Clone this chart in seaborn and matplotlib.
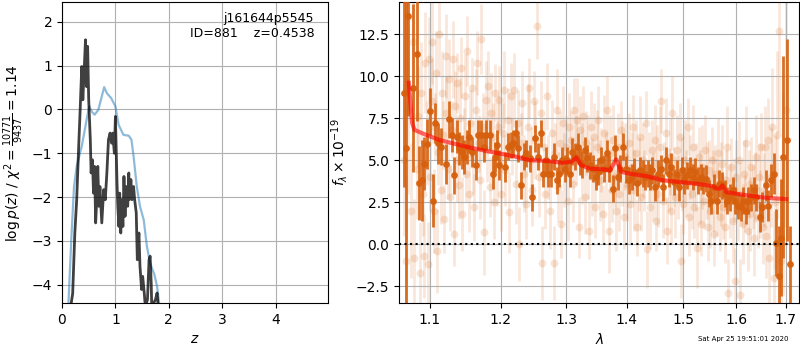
import matplotlib
matplotlib.use("Agg")
import pandas as pd
import seaborn as sns
import matplotlib.pyplot as plt
from matplotlib.ticker import FixedLocator, NullLocator, FormatStrFormatter

# ---- left panel: redshift probability ----
pz_z = [0.12, 0.15, 0.20, 0.24, 0.275, 0.31, 0.34, 0.37, 0.39, 0.41, 0.44, 0.46, 0.48, 0.50,
        0.53, 0.545, 0.57, 0.59, 0.61, 0.63, 0.65, 0.67, 0.69, 0.71, 0.745, 0.78, 0.81, 0.84,
        0.87, 0.90, 0.93, 0.95, 0.98, 1.00, 1.03, 1.045, 1.065, 1.08, 1.10, 1.12, 1.14, 1.16,
        1.18, 1.20, 1.23, 1.25, 1.26, 1.29, 1.31, 1.34, 1.36, 1.39, 1.41, 1.44, 1.46, 1.49,
        1.51, 1.54, 1.56, 1.60, 1.63, 1.65, 1.67, 1.68, 1.75, 1.78, 1.80, 1.85]
pz_logp = [-6.0, -4.6, -4.2, -2.82, -2.06, -0.92, -0.01, 0.98, 0.22, 0.75, 1.59, 0.52, 1.44, 0.22,
           -0.69, -1.45, -1.15, -1.91, -1.30, -2.59, -2.06, -1.30, -2.21, -1.76, -2.59, -1.83, -2.06, -1.45,
           -0.69, -0.54, -0.77, -0.54, -1.00, -0.16, -1.68, -2.21, -2.67, -1.91, -2.82, -2.06, -2.67, -1.53,
           -2.44, -1.76, -2.21, -1.45, -2.06, -1.60, -2.06, -1.76, -2.06, -2.36, -3.43, -2.82, -3.58, -4.11,
           -3.81, -4.19, -4.50, -4.34, -3.43, -3.35, -3.96, -4.50, -4.34, -4.19, -4.50, -6.0]

prior_z = [0.10, 0.12, 0.18, 0.225, 0.275, 0.37, 0.46, 0.51, 0.557, 0.61, 0.68, 0.745, 0.79, 0.84,
           0.92, 1.00, 1.06, 1.15, 1.25, 1.30, 1.34, 1.40, 1.46, 1.53, 1.59, 1.65, 1.73, 1.78, 1.82, 1.86]
prior_logp = [-6.0, -4.43, -2.82, -1.76, -1.30, -0.84, -0.24, 0.07, -0.05, -0.12, -0.01, 0.30, 0.51, 0.37,
              0.26, 0.07, -0.35, -0.58, -0.60, -0.69, -1.07, -1.76, -2.21, -2.52, -3.13, -3.51, -3.77, -4.04, -4.43, -6.0]

# ---- right panel: spectrum ----
model_wave = [1.0725, 1.0769, 1.0800, 1.0955, 1.1135, 1.1317, 1.1505, 1.1788, 1.2032, 1.2230,
              1.2431, 1.2687, 1.2947, 1.3080, 1.3160, 1.3241, 1.3376, 1.3652, 1.3708, 1.3820,
              1.3905, 1.4047, 1.4336, 1.4632, 1.4933, 1.5240, 1.5554, 1.5617, 1.5681, 1.5732,
              1.5809, 1.6004, 1.6334, 1.6535, 1.7008]
model_flux = [9.6, 7.2, 6.8, 6.5, 6.2, 6.0, 5.8, 5.55, 5.36, 5.2,
              5.0, 4.96, 4.84, 4.9, 5.16, 4.7, 4.5, 4.44, 4.38, 5.04,
              4.3, 4.2, 4.05, 3.8, 3.7, 3.6, 3.45, 3.32, 3.3, 3.5,
              3.1, 3.0, 2.86, 2.78, 2.68]

binned_wave = [1.066, 1.069, 1.072, 1.078, 1.083, 1.086, 1.090, 1.093, 1.096, 1.100,
               1.105, 1.108, 1.112, 1.116, 1.122, 1.127, 1.130, 1.133, 1.137, 1.140,
               1.144, 1.147, 1.151, 1.155, 1.159, 1.164, 1.167, 1.172, 1.175, 1.179,
               1.184, 1.188, 1.191, 1.194, 1.198, 1.207, 1.211, 1.215, 1.218, 1.222,
               1.226, 1.230, 1.234, 1.238, 1.243, 1.247, 1.251, 1.256, 1.260, 1.264,
               1.268, 1.272, 1.276, 1.280, 1.285, 1.289, 1.293, 1.298, 1.301, 1.306,
               1.309, 1.314, 1.318, 1.322, 1.326, 1.330, 1.334, 1.338, 1.343, 1.348,
               1.352, 1.357, 1.361, 1.366, 1.370, 1.376, 1.380, 1.385, 1.389, 1.394,
               1.399, 1.404, 1.408, 1.413, 1.418, 1.422, 1.427, 1.432, 1.436, 1.440,
               1.444, 1.449, 1.454, 1.459, 1.463, 1.468, 1.473, 1.478, 1.483, 1.488,
               1.492, 1.497, 1.502, 1.507, 1.512, 1.517, 1.522, 1.527, 1.532, 1.537,
               1.542, 1.547, 1.552, 1.557, 1.562, 1.567, 1.573, 1.578, 1.583, 1.588,
               1.593, 1.598, 1.604, 1.609, 1.614, 1.619, 1.624, 1.630, 1.635, 1.640,
               1.647, 1.652, 1.659, 1.663, 1.670, 1.675, 1.679, 1.686, 1.690, 1.695,
               1.702, 1.708]
binned_flux = [9.0, 5.7, 13.6, 9.3, 11.3, 3.65, 3.8, 4.8, 5.95, 7.9,
               2.6, 7.2, 6.0, 5.8, 4.76, 7.44, 6.5, 4.1, 6.4, 5.7,
               5.5, 5.2, 5.8, 6.4, 5.5, 4.7, 6.5, 6.5, 5.8, 6.5,
               6.5, 4.2, 5.2, 5.9, 4.7, 4.6, 5.8, 5.9, 6.0, 6.6,
               5.7, 3.5, 5.2, 5.4, 5.1, 2.8, 6.3, 5.2, 6.6, 4.2,
               5.0, 4.2, 4.2, 5.2, 3.8, 4.2, 5.0, 4.5, 5.0, 4.2,
               5.5, 5.2, 5.8, 4.9, 4.76, 5.6, 5.1, 4.7, 4.5, 4.0,
               4.3, 5.0, 4.5, 5.4, 4.5, 3.3, 5.7, 4.0, 4.5, 5.8,
               4.45, 3.8, 4.0, 4.3, 3.65, 4.4, 4.2, 4.0, 4.2, 4.0,
               4.4, 3.4, 4.2, 4.5, 3.4, 5.0, 4.2, 4.6, 3.7, 4.2,
               3.4, 4.4, 3.8, 4.1, 4.4, 4.0, 4.3, 3.8, 4.0, 3.8,
               3.9, 3.0, 2.6, 3.4, 2.6, 3.6, 3.5, 3.0, 2.6, 2.8,
               3.2, 2.6, 2.3, 2.2, 2.6, 2.0, 2.6, 2.8, 3.2, 2.8,
               1.6, 2.2, 3.5, 2.3, 3.8, 4.2, 0.1, -1.9, 0.4, 5.2,
               6.2, -1.2]
binned_err = [5.6, 10.0, 6.0, 5.0, 4.0, 2.2, 2.4, 1.6, 1.5, 1.4,
              1.6, 1.2, 1.2, 1.1, 1.2, 1.1, 1.0, 1.1, 1.0, 1.0,
              1.0, 1.0, 1.0, 1.0, 0.9, 0.9, 0.9, 0.9, 0.9, 0.9,
              0.9, 0.9, 0.9, 0.9, 0.9, 0.9, 0.8, 0.8, 0.8, 0.8,
              0.8, 0.8, 0.8, 0.8, 0.8, 0.8, 0.8, 0.8, 0.8, 0.8,
              0.8, 0.8, 0.8, 0.8, 0.8, 0.8, 0.8, 0.8, 0.8, 0.8,
              0.8, 0.8, 0.8, 0.8, 0.8, 0.8, 0.8, 0.8, 0.8, 0.8,
              0.8, 0.8, 0.8, 0.8, 0.8, 0.8, 0.8, 0.8, 0.8, 0.8,
              0.8, 0.8, 0.8, 0.8, 0.8, 0.8, 0.8, 0.8, 0.8, 0.8,
              0.8, 0.8, 0.8, 0.8, 0.8, 0.8, 0.8, 0.8, 0.8, 0.8,
              0.8, 0.8, 0.8, 0.8, 0.8, 0.8, 0.8, 0.8, 0.8, 0.8,
              0.8, 0.8, 0.8, 0.8, 0.8, 0.8, 0.8, 0.8, 0.8, 0.8,
              0.8, 0.8, 0.8, 0.8, 0.8, 0.8, 0.8, 0.8, 0.8, 0.8,
              0.9, 0.9, 0.9, 0.9, 1.0, 1.2, 2.0, 3.0, 3.5, 6.0,
              6.0, 2.3]

faint_wave = [1.066, 1.069, 1.072, 1.075, 1.078, 1.080, 1.083, 1.085, 1.087, 1.089,
              1.091, 1.093, 1.094, 1.096, 1.098, 1.099, 1.101, 1.103, 1.104, 1.106,
              1.107, 1.109, 1.110, 1.112, 1.113, 1.115, 1.117, 1.118, 1.120, 1.122,
              1.123, 1.125, 1.127, 1.128, 1.130, 1.132, 1.133, 1.135, 1.137, 1.138,
              1.140, 1.142, 1.143, 1.145, 1.147, 1.149, 1.150, 1.152, 1.154, 1.156,
              1.158, 1.160, 1.162, 1.164, 1.166, 1.168, 1.170, 1.172, 1.174, 1.176,
              1.178, 1.180, 1.182, 1.184, 1.186, 1.188, 1.190, 1.192, 1.194, 1.196,
              1.198, 1.200, 1.203, 1.205, 1.207, 1.210, 1.212, 1.215, 1.217, 1.220,
              1.222, 1.225, 1.227, 1.230, 1.232, 1.235, 1.237, 1.240, 1.242, 1.245,
              1.247, 1.250, 1.252, 1.255, 1.257, 1.260, 1.262, 1.265, 1.267, 1.270,
              1.272, 1.275, 1.277, 1.280, 1.282, 1.285, 1.287, 1.290, 1.292, 1.295,
              1.297, 1.300, 1.302, 1.305, 1.307, 1.310, 1.312, 1.315, 1.317, 1.320,
              1.322, 1.325, 1.327, 1.330, 1.332, 1.335, 1.337, 1.340, 1.342, 1.345,
              1.347, 1.350, 1.352, 1.355, 1.357, 1.360, 1.362, 1.365, 1.367, 1.370,
              1.372, 1.375, 1.377, 1.380, 1.382, 1.385, 1.387, 1.390, 1.392, 1.395,
              1.397, 1.400, 1.403, 1.405, 1.408, 1.410, 1.413, 1.415, 1.418, 1.420,
              1.423, 1.425, 1.428, 1.430, 1.433, 1.435, 1.438, 1.440, 1.443, 1.445,
              1.448, 1.450, 1.453, 1.455, 1.458, 1.460, 1.463, 1.465, 1.468, 1.470,
              1.473, 1.475, 1.478, 1.480, 1.483, 1.485, 1.488, 1.490, 1.493, 1.495,
              1.498, 1.500, 1.503, 1.505, 1.508, 1.510, 1.513, 1.515, 1.518, 1.520,
              1.523, 1.525, 1.528, 1.530, 1.533, 1.535, 1.538, 1.540, 1.543, 1.545,
              1.548, 1.550, 1.553, 1.555, 1.558, 1.560, 1.563, 1.565, 1.568, 1.570,
              1.573, 1.575, 1.578, 1.580, 1.583, 1.585, 1.588, 1.590, 1.593, 1.595,
              1.598, 1.600, 1.603, 1.605, 1.608, 1.610, 1.613, 1.615, 1.618, 1.620,
              1.623, 1.625, 1.628, 1.630, 1.633, 1.635, 1.638, 1.640, 1.643, 1.645,
              1.648, 1.650, 1.653, 1.655, 1.658, 1.660, 1.663, 1.666, 1.669, 1.672,
              1.675, 1.678, 1.682, 1.686, 1.690, 1.695, 1.700]
faint_flux = [5.0, -1.0, 8.0, 2.0, 12.0, -0.8, 4.5, 7.6, -1.7, 9.0,
              3.0, -0.7, 10.8, 6.0, -1.2, 11.0, 4.0, 8.5, 12.0, 2.0,
              7.0, 10.2, -0.4, 5.5, 12.5, 3.2, 9.0, 6.5, 1.5, 11.2,
              7.8, 4.5, 9.8, 2.8, 6.8, 11.0, 0.6, 8.2, 5.0, 9.6,
              3.5, 7.5, 10.5, 1.8, 6.2, 8.8, 4.2, 11.5, 3.0, 7.2,
              9.3, 5.2, 2.2, 8.0, 10.8, 6.0, 3.8, 12.2, 7.0, 0.7,
              8.6, 5.6, 9.4, 3.4, 7.8, 6.4, 2.5, 9.0, 4.8, 7.0,
              8.6, 3.0, 6.6, 9.2, 4.4, 7.4, 1.9, 8.8, 5.8, 9.2,
              3.6, 7.2, 0.0, 6.0, 8.4, 4.2, 2.4, 7.0, 9.3, 5.0,
              3.2, 8.5, 6.2, 13.0, 4.0, 7.8, -1.1, 5.8, 3.0, 8.8,
              4.6, 2.0, 6.6, -1.1, 5.4, 8.0, 3.4, 6.0, 1.2, 7.2,
              4.4, 5.8, 2.6, 7.0, 6.2, 3.6, 8.0, 5.6, 7.4, 1.0,
              6.8, 4.8, 7.6, 2.8, 6.0, 5.2, 0.8, 7.0, 4.0, 6.4,
              2.2, 5.8, 7.4, 3.8, 5.0, 1.8, 6.6, 4.6, 8.0, 0.8,
              5.4, 3.2, 6.2, 4.0, 2.0, 5.8, 3.0, 6.8, 4.8, 1.6,
              5.2, 3.6, 6.0, 2.4, 4.6, 7.0, 3.2, 5.4, 1.0, 4.2,
              6.4, 2.8, 5.0, 3.8, 7.2, -0.3, 4.6, 2.2, 5.6, 3.4,
              6.2, 1.4, 4.8, 3.0, 5.8, 8.5, 2.6, 4.4, 6.6, 0.8,
              3.8, 5.2, 2.0, 7.8, 4.0, 2.8, 5.6, 3.4, 6.4, -1.0,
              4.2, 2.4, 5.0, 3.6, 7.0, 1.6, 4.6, 3.0, 5.8, 2.2,
              4.0, -0.2, 5.2, 3.4, 1.2, 4.6, 2.6, 5.6, 3.8, 1.0,
              4.4, 2.0, 5.0, 3.2, 0.6, 4.2, 2.8, 5.4, 1.6, 3.6,
              4.8, 2.2, 1.0, 3.8, 5.8, -2.9, 2.6, 4.6, 1.4, 3.2,
              -2.2, 4.0, 2.0, 5.0, -3.0, 3.0, 1.2, 4.2, 2.4, 6.0,
              0.8, 3.6, 1.8, 4.6, 2.8, 0.4, 3.4, 5.2, 1.6, 4.0,
              2.4, 5.8, 1.0, 3.2, 5.8, 0.5, 6.2, -0.8, 4.0, 7.0,
              -2.0, 2.5, 6.5, 12.7, -1.0, 3.0, 8.0]
faint_err = [4.5, 5.0, 5.0, 4.0, 4.0, 3.5, 3.0, 3.0, 3.0, 3.0,
             2.5, 2.5, 3.0, 2.5, 2.5, 2.5, 2.0, 2.5, 2.5, 2.5,
             2.0, 2.5, 2.5, 2.0, 2.5, 2.0, 2.5, 2.0, 2.0, 2.5,
             2.2, 1.8, 2.4, 2.0, 1.7, 2.3, 1.9, 2.1, 2.5, 1.8,
             2.0, 2.4, 1.8, 2.2, 1.9, 2.5, 1.7, 2.1, 2.3, 2.0,
             1.8, 2.2, 2.0, 2.4, 1.9, 1.7, 2.3, 2.1, 2.0, 2.5,
             2.3, 1.9, 2.1, 1.8, 2.4, 2.0, 2.2, 1.7, 2.5, 1.9,
             2.0, 2.2, 1.8, 2.3, 2.1, 1.9, 2.4, 2.0, 1.7, 2.2,
             2.4, 2.0, 2.2, 1.8, 1.9, 2.3, 2.1, 2.5, 1.8, 2.0,
             2.1, 1.8, 2.3, 2.0, 2.4, 1.9, 2.2, 1.7, 2.1, 2.0,
             1.9, 2.3, 2.0, 2.2, 1.8, 2.4, 2.1, 1.9, 2.0, 2.2,
             2.2, 1.8, 2.4, 2.0, 1.7, 2.3, 1.9, 2.1, 2.5, 1.8,
             2.0, 2.4, 1.8, 2.2, 1.9, 2.5, 1.7, 2.1, 2.3, 2.0,
             1.8, 2.2, 2.0, 2.4, 1.9, 1.7, 2.3, 2.1, 2.0, 2.5,
             2.3, 1.9, 2.1, 1.8, 2.4, 2.0, 2.2, 1.7, 2.5, 1.9,
             2.0, 2.2, 1.8, 2.3, 2.1, 1.9, 2.4, 2.0, 1.7, 2.2,
             2.4, 2.0, 2.2, 1.8, 1.9, 2.3, 2.1, 2.5, 1.8, 2.0,
             2.1, 1.8, 2.3, 2.0, 2.4, 1.9, 2.2, 1.7, 2.1, 2.0,
             1.9, 2.3, 2.0, 2.2, 1.8, 2.4, 2.1, 1.9, 2.0, 2.2,
             2.2, 1.8, 2.4, 2.0, 1.7, 2.3, 1.9, 2.1, 2.5, 1.8,
             2.0, 2.4, 1.8, 2.2, 1.9, 2.5, 1.7, 2.1, 2.3, 2.0,
             1.8, 2.2, 2.0, 2.4, 1.9, 1.7, 2.3, 2.1, 2.0, 2.5,
             2.3, 1.9, 2.1, 1.8, 2.4, 2.0, 2.2, 1.7, 2.5, 1.9,
             2.0, 2.2, 1.8, 2.3, 2.1, 1.9, 2.4, 2.0, 1.7, 2.2,
             2.4, 2.0, 2.2, 1.8, 1.9, 2.3, 2.1, 2.5, 1.8, 2.0,
             2.0, 2.0, 2.2, 2.2, 2.4, 2.5, 2.5, 3.0, 3.0, 3.5,
             4.0, 4.0, 5.0, 6.0, 6.0, 6.0, 7.0]

wave_ticks = [1.1, 1.2, 1.3, 1.4, 1.5, 1.6, 1.7]
label_text = "j161644p5545\nID=881    z=0.4538"
timestamp = "Sat Apr 25 19:51:01 2020"

ORANGE = "#d6600d"

fig = plt.figure(figsize=(8, 3.5), dpi=100)
ax1 = fig.add_axes([0.0775, 0.134, 0.3325, 0.86])
ax2 = fig.add_axes([0.499, 0.134, 0.5, 0.86])

# left: p(z)
prior_df = pd.DataFrame({"z": prior_z, "logp": prior_logp})
pz_df = pd.DataFrame({"z": pz_z, "logp": pz_logp})
sns.lineplot(data=prior_df, x="z", y="logp", ax=ax1, sort=False, estimator=None,
             color="#1f77b4", alpha=0.5, lw=1.6)
sns.lineplot(data=pz_df, x="z", y="logp", ax=ax1, sort=False, estimator=None,
             color="k", alpha=0.75, lw=2)
ax1.set_xlim(0, 4.98)
ax1.set_ylim(-4.42, 2.45)
ax1.set_xticks([0, 1, 2, 3, 4])
ax1.set_yticks([-4, -3, -2, -1, 0, 1, 2])
ax1.grid(True)
ax1.set_xlabel("$z$")
ax1.set_ylabel(r"$\log p(z)$ / $\chi^2=\frac{10771}{9437}=1.14$")
ax1.text(0.948, 0.968, label_text, transform=ax1.transAxes, ha="right", va="top",
         multialignment="right", fontsize=9)

# right: spectrum
faint_df = pd.DataFrame({"wave": faint_wave, "flux": faint_flux, "err": faint_err})
binned_df = pd.DataFrame({"wave": binned_wave, "flux": binned_flux, "err": binned_err})
model_df = pd.DataFrame({"wave": model_wave, "flux": model_flux})

ax2.errorbar(faint_df["wave"], faint_df["flux"], yerr=faint_df["err"], fmt="none",
             ecolor=ORANGE, alpha=0.15, elinewidth=2, zorder=1)
sns.scatterplot(data=faint_df, x="wave", y="flux", ax=ax2, color=ORANGE, alpha=0.17,
                s=32, linewidth=0, zorder=2)
ax2.errorbar(binned_df["wave"], binned_df["flux"], yerr=binned_df["err"], fmt="none",
             ecolor=ORANGE, alpha=0.9, elinewidth=2, zorder=3)
sns.scatterplot(data=binned_df, x="wave", y="flux", ax=ax2, color=ORANGE, alpha=0.95,
                s=24, linewidth=0, zorder=4)
sns.lineplot(data=model_df, x="wave", y="flux", ax=ax2, sort=False, estimator=None,
             color="r", alpha=0.6, lw=3, zorder=5)
ax2.axhline(0, color="k", linestyle=":", lw=1.5, zorder=6)

ax2.set_xscale("log")
ax2.set_xlim(1.06, 1.728)
ax2.xaxis.set_major_locator(FixedLocator(wave_ticks))
ax2.xaxis.set_major_formatter(FormatStrFormatter("%.1f"))
ax2.xaxis.set_minor_locator(NullLocator())
ax2.set_ylim(-3.5, 14.4)
ax2.set_yticks([-2.5, 0, 2.5, 5, 7.5, 10, 12.5])
ax2.grid(True)
ax2.set_xlabel(r"$\lambda$")
ax2.set_ylabel(r"$f_\lambda\times10^{-19}$")

fig.text(0.985, 0.031, timestamp, ha="right", va="center", fontsize=5)

fig.savefig("out.png", dpi=100)
